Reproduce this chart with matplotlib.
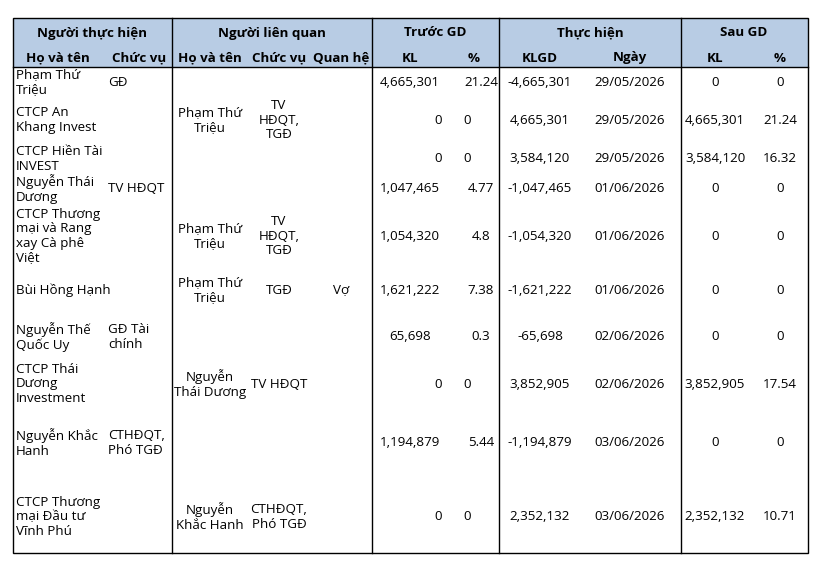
import matplotlib
matplotlib.use("Agg")
import matplotlib.pyplot as plt
from matplotlib.patches import Rectangle

plt.rcParams['font.family'] = ['Open Sans', 'DejaVu Sans']

nguoi = ["Phạm Thứ\nTriệu", "CTCP An\nKhang Invest", "CTCP Hiền Tài\nINVEST", "Nguyễn Thái\nDương",
         "CTCP Thương\nmại và Rang\nxay Cà phê\nViệt", "Bùi Hồng Hạnh", "Nguyễn Thế\nQuốc Uy",
         "CTCP Thái\nDương\nInvestment", "Nguyễn Khắc\nHanh", "CTCP Thương\nmại Đầu tư\nVĩnh Phú"]
chucvu = ["GĐ", "", "", "TV HĐQT", "", "", "GĐ Tài\nchính", "", "CTHĐQT,\nPhó TGĐ", ""]
lq_ten = ["", "Phạm Thứ\nTriệu", "", "", "Phạm Thứ\nTriệu", "Phạm Thứ\nTriệu", "", "Nguyễn\nThái Dương", "", "Nguyễn\nKhắc Hanh"]
lq_cv = ["", "TV\nHĐQT,\nTGĐ", "", "", "TV\nHĐQT,\nTGĐ", "TGĐ", "", "TV HĐQT", "", "CTHĐQT,\nPhó TGĐ"]
quanhe = ["", "", "", "", "", "Vợ", "", "", "", ""]
truoc_kl = ["4,665,301", "0", "0", "1,047,465", "1,054,320", "1,621,222", "65,698", "0", "1,194,879", "0"]
truoc_pct = ["21.24", "0", "0", "4.77", "4.8", "7.38", "0.3", "0", "5.44", "0"]
klgd = ["-4,665,301", "4,665,301", "3,584,120", "-1,047,465", "-1,054,320", "-1,621,222", "-65,698",
        "3,852,905", "-1,194,879", "2,352,132"]
ngay = ["29/05/2026", "29/05/2026", "29/05/2026", "01/06/2026", "01/06/2026", "01/06/2026", "02/06/2026",
        "02/06/2026", "03/06/2026", "03/06/2026"]
sau_kl = ["0", "4,665,301", "3,584,120", "0", "0", "0", "0", "3,852,905", "0", "2,352,132"]
sau_pct = ["0", "21.24", "16.32", "0", "0", "0", "0", "17.54", "0", "10.71"]

row_y = [82, 120, 159, 189, 236, 290, 337, 384, 443, 517]

fig = plt.figure(figsize=(8.26, 5.64), dpi=100)
ax = fig.add_axes([0, 0, 1, 1])
ax.set_xlim(0, 826); ax.set_ylim(564, 0); ax.axis('off')

L, R, T, B, H = 13, 808, 18, 553, 67
ax.add_patch(Rectangle((L, T), R - L, H - T, facecolor='#b8cce4', edgecolor='none'))
ax.add_patch(Rectangle((L, T), R - L, B - T, facecolor='none', edgecolor='black', lw=1))
ax.plot([L, R], [H, H], color='black', lw=1)
for x in [172, 372, 499, 681]:
    ax.plot([x, x], [T, B], color='black', lw=1)

fs = 9.6
hk = dict(fontsize=fs, fontweight='bold', va='center', ha='center')
for x, t in [(92, "Người thực hiện"), (272, "Người liên quan"), (435, "Trước GD"), (590, "Thực hiện"), (744, "Sau GD")]:
    ax.text(x, 33, t, **hk)
for x, t in [(58, "Họ và tên"), (139, "Chức vụ"), (210, "Họ và tên"), (279, "Chức vụ"), (341, "Quan hệ"),
             (410, "KL"), (474, "%"), (540, "KLGD"), (630, "Ngày"), (715, "KL"), (780, "%")]:
    ax.text(x, 58, t, **hk)

ck = dict(fontsize=fs, va='center', linespacing=1.12)
for i, y in enumerate(row_y):
    ax.text(16, y, nguoi[i], ha='left', **ck)
    ax.text(108, y, chucvu[i], ha='left', **ck)
    ax.text(210, y, lq_ten[i], ha='center', **ck)
    ax.text(279, y, lq_cv[i], ha='center', **ck)
    ax.text(341, y, quanhe[i], ha='center', **ck)
    ax.text(438 if truoc_kl[i] == "0" else 410, y, truoc_kl[i], ha='center', **ck)
    ax.text(467 if truoc_pct[i] == "0" else 481, y, truoc_pct[i], ha='center', **ck)
    ax.text(540, y, klgd[i], ha='center', **ck)
    ax.text(630, y, ngay[i], ha='center', **ck)
    ax.text(715, y, sau_kl[i], ha='center', **ck)
    ax.text(780, y, sau_pct[i], ha='center', **ck)

fig.savefig("out.png", dpi=100)
